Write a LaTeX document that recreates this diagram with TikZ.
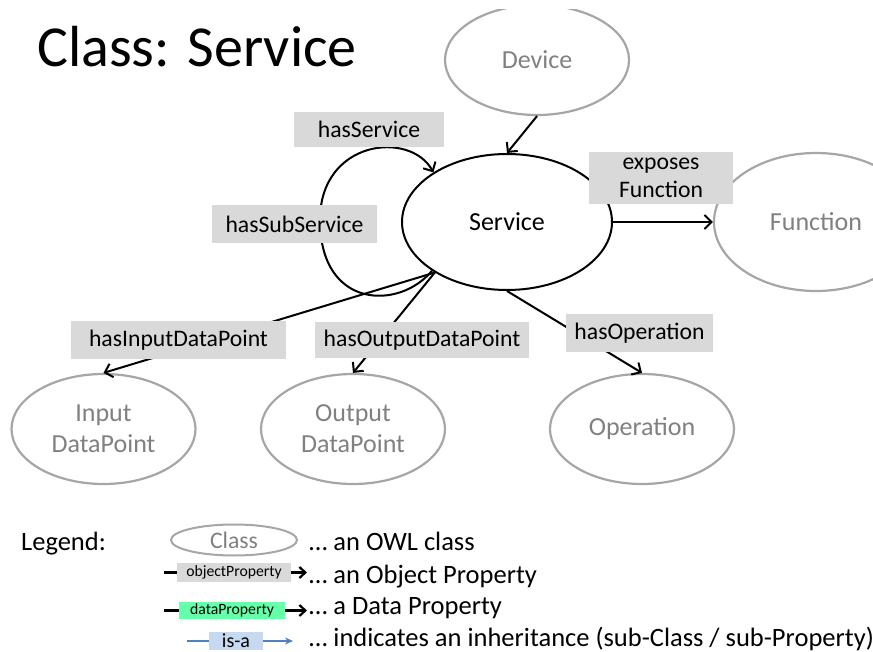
\documentclass[tikz,border=0pt]{standalone}
\usepackage{fontspec}
\setmainfont{Carlito}
\usetikzlibrary{arrows.meta,shapes.geometric}
\definecolor{clsline}{RGB}{166,166,166}
\definecolor{clstext}{RGB}{128,128,128}
\definecolor{lblfill}{RGB}{217,217,217}
\definecolor{datafill}{RGB}{102,255,170}
\definecolor{isafill}{RGB}{198,217,241}
\definecolor{isaline}{RGB}{79,129,189}
\begin{document}
\begin{tikzpicture}[x=1pt,y=-1pt,
  cls/.style={ellipse, draw=clsline, line width=2.2pt, text=clstext, font=\fontsize{26}{31}\selectfont, align=center, inner sep=0pt},
  bigcls/.style={cls, minimum width=184pt, minimum height=110pt},
  svcstyle/.style={ellipse, draw=black, line width=2pt, font=\fontsize{26}{31}\selectfont, inner sep=0pt, minimum width=210pt, minimum height=136pt},
  lbl/.style={fill=lblfill, font=\fontsize{23.7}{28}\selectfont, align=center, inner sep=0pt},
  rel/.style={line width=2pt, -{Straight Barb[length=7pt,width=14pt,line width=2pt]}},
  legtxt/.style={anchor=base west, inner sep=0pt, font=\fontsize{26.5}{31}\selectfont},
  smallbox/.style={inner sep=0pt, font=\fontsize{15.7}{19}\selectfont},
]
\useasboundingbox (0,0) rectangle (873,652);
\begin{scope}
\clip (0,10) rectangle (873,652);
% title
\node[anchor=base west, inner sep=0pt, font=\fontsize{58}{70}\selectfont] (title) at (37,67) {Class: Service};
% classes
\node[svcstyle] (svc) at (507,222) {Service};
\node[bigcls] (dev) at (537,60) {Device};
\node[cls, minimum width=204pt, minimum height=138pt] (fun) at (816,222) {Function};
\node[bigcls] (inp) at (103.5,429) {Input\\DataPoint};
\node[bigcls] (outp) at (353,429) {Output\\DataPoint};
\node[bigcls] (op) at (642,429) {Operation};
% connectors
\draw[rel] (dev.south) -- (svc.north);
\draw[rel] (svc.east) -- (fun.west);
\draw[rel] (svc.215) -- (inp.north);
\draw[rel] (svc.215) -- (outp.north);
\draw[rel] (svc.south) -- (op.north);
\draw[rel] (svc.213) .. controls (400,310) and (320,310) .. (320,220) .. controls (320,140) and (410,130) .. (svc.146);
% labels
\node[lbl, minimum width=150pt, minimum height=35pt] (lsvc) at (369,129.5) {hasService};
\node[lbl, minimum width=165pt, minimum height=38pt] (lsub) at (294.5,224) {hasSubService};
\node[lbl, minimum width=144pt, minimum height=52pt] (lexp) at (661,178) {exposes\\Function};
\node[lbl, minimum width=215pt, minimum height=38pt] (linp) at (178.5,340) {hasInputDataPoint};
\node[lbl, minimum width=214pt, minimum height=36pt] (lout) at (422,340) {hasOutputDataPoint};
\node[lbl, minimum width=147pt, minimum height=38pt] (lop) at (639.5,333) {hasOperation};
% legend
\node[legtxt] (leg) at (21,550) {Legend:};
\node[cls, minimum width=126pt, minimum height=31pt, line width=2pt, font=\fontsize{23.7}{28}\selectfont] (lcls) at (234,540) {Class};
\node[legtxt] (t1) at (309,550) {… an OWL class};
\node[legtxt] (t2) at (309,583) {… an Object Property};
\node[legtxt] (t3) at (309,614) {… a Data Property};
\node[legtxt] (t4) at (309,646) {… indicates an inheritance (sub-Class / sub-Property)};
% object property row
\node[smallbox, fill=lblfill, minimum width=114pt, minimum height=19pt] (lobj) at (234,572.5) {objectProperty};
\coordinate (o1) at (164,572.5);
\coordinate (o2) at (307,572.5);
\draw[line width=2.5pt] (o1) -- (lobj.west);
\draw[line width=2.5pt, -{Straight Barb[length=6pt,width=11pt,line width=2.2pt]}] (lobj.east) -- (o2);
% data property row
\node[smallbox, fill=datafill, minimum width=106pt, minimum height=17pt] (ldat) at (232,610.5) {dataProperty};
\coordinate (d1) at (164,610.5);
\coordinate (d2) at (307,610.5);
\draw[line width=2.5pt] (d1) -- (ldat.west);
\draw[line width=2.5pt, -{Straight Barb[length=6pt,width=11pt,line width=2.2pt]}] (ldat.east) -- (d2);
% is-a row
\node[inner sep=0pt, fill=isafill, minimum width=54pt, minimum height=18pt, font=\fontsize{20}{24}\selectfont] (lisa) at (236,641) {is-a};
\coordinate (i1) at (187,641);
\coordinate (i2) at (293,641);
\draw[isaline, line width=1.8pt] (i1) -- (lisa.west);
\draw[isaline, line width=1.8pt, -{Stealth[length=8pt,width=7pt]}] (lisa.east) -- (i2);
\end{scope}
\end{tikzpicture}
\end{document}
